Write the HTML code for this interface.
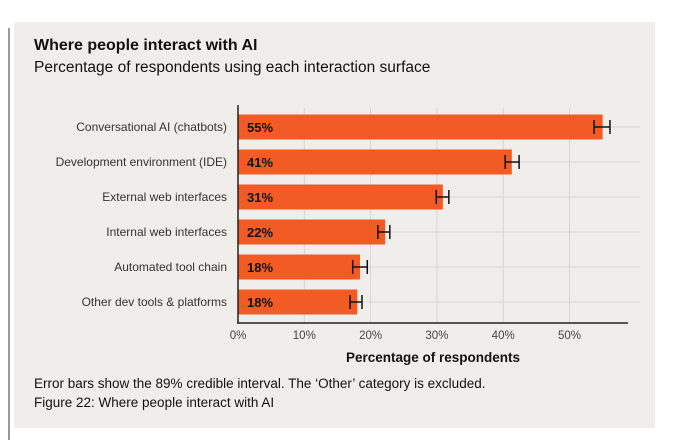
<!DOCTYPE html>
<html><head><meta charset="utf-8"><style>
body{margin:0;width:680px;height:440px;background:#fff;font-family:"Liberation Sans",sans-serif;overflow:hidden}
</style></head><body>
<svg width="680" height="440" xmlns="http://www.w3.org/2000/svg">
<line x1="9" y1="28" x2="9" y2="440" stroke="#333" stroke-width="1"/>
<rect x="14" y="22" width="641" height="406" fill="#efeeeb"/>
<text x="34" y="50" font-size="16" font-weight="bold" fill="#111">Where people interact with AI</text>
<text x="34" y="72" font-size="15.5" fill="#111">Percentage of respondents using each interaction surface</text>
<g id="grid"></g><g id="bars"></g><g id="axes"></g>
<text x="433" y="362" font-size="13.5" font-weight="bold" text-anchor="middle" fill="#111">Percentage of respondents</text>
<text x="34" y="388" font-size="13.5" fill="#111">Error bars show the 89% credible interval. The ‘Other’ category is excluded.</text>
<text x="34" y="407" font-size="13.5" fill="#111">Figure 22: Where people interact with AI</text>
</svg>
<script>
const categories=["Conversational AI (chatbots)","Development environment (IDE)","External web interfaces","Internal web interfaces","Automated tool chain","Other dev tools & platforms"];
const values=[55.0,41.3,30.9,22.2,18.4,18.0];
const lows=[53.7,40.3,29.9,21.1,17.3,16.9];
const highs=[56.1,42.4,31.8,22.9,19.5,18.7];
const labels=["55%","41%","31%","22%","18%","18%"];
const ticks=[0,10,20,30,40,50];
const NS="http://www.w3.org/2000/svg";
const x=v=>238+v*6.63;
const y=i=>127+i*35;
function mk(t,a,p){const e=document.createElementNS(NS,t);for(const k in a)e.setAttribute(k,a[k]);p.appendChild(e);return e;}
const g=document.getElementById('grid'),b=document.getElementById('bars'),ax=document.getElementById('axes');
ticks.forEach(t=>{
 if(t>0){const l=mk('line',{x1:x(t),x2:x(t),y1:108,y2:323,stroke:'#d6d5d2','stroke-width':1},g);
 
 }
 const tx=mk('text',{x:x(t),y:339,'font-size':11.5,'text-anchor':'middle',fill:'#444'},ax);tx.textContent=t+'%';
 
 
});
categories.forEach((c,i)=>{
 const hl=mk('line',{x1:238,x2:640,y1:y(i),y2:y(i),stroke:'#d6d5d2','stroke-width':1},g);
 
 
 const r=mk('rect',{x:x(0),y:y(i)-12.5,width:x(values[i])-x(0),height:25,fill:'#f25c24'},b);
 
 
 const v=mk('text',{x:247,y:y(i)+5,'font-size':13,'font-weight':'bold',fill:'#111'},b);v.textContent=labels[i];
 
 
 const eb=mk('path',{d:`M${x(lows[i])},${y(i)-7}V${y(i)+7}M${x(lows[i])},${y(i)}H${x(highs[i])}M${x(highs[i])},${y(i)-7}V${y(i)+7}`,stroke:'#111','stroke-width':1.5,fill:'none'},b);
 
 
 const cl=mk('text',{x:227,y:y(i)+4,'font-size':12,'text-anchor':'end',fill:'#333'},ax);cl.textContent=c;
 
 
});
const xa=mk('line',{x1:237,x2:628,y1:323,y2:323,stroke:'#222','stroke-width':1.5},ax);


const ya=mk('line',{x1:238,x2:238,y1:105,y2:323,stroke:'#222','stroke-width':1.5},ax);


</script>
</body></html>
